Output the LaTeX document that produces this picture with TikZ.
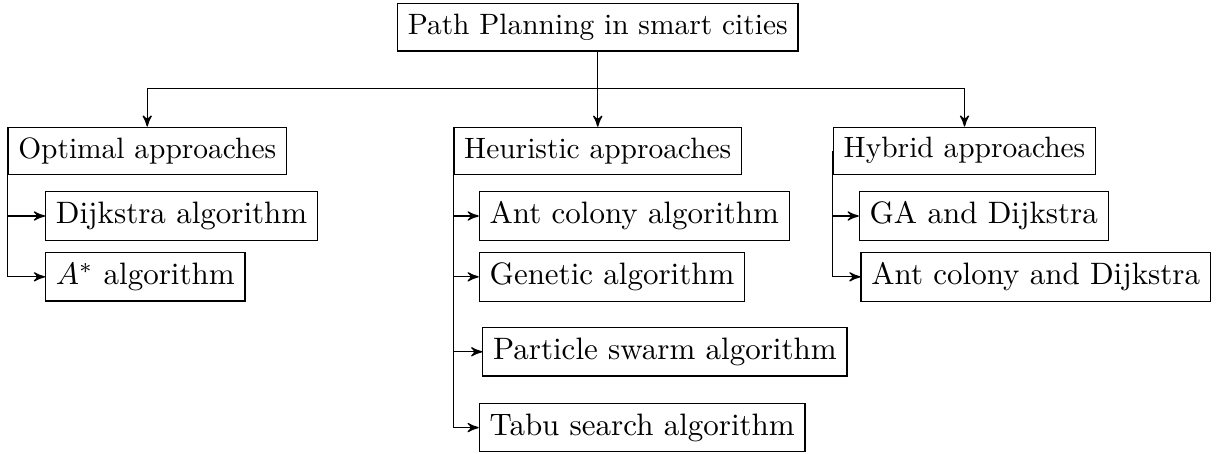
\documentclass[tikz,border=0pt]{standalone}
\usepackage{amsmath}
\usepackage{tikz}
\usetikzlibrary{arrows}
\tikzset{
  treenode/.style = {align=center, rectangle, draw=black, text centered},
  pp_root/.style = {treenode, font=\fontsize{9.5}{11.4}\selectfont},% racine
  pp_cat/.style = {treenode, font=\fontsize{9.5}{11.4}\selectfont},% categorie d'approches
  pp_alg/.style = {treenode, anchor=west}% algorithme
}

\begin{document}
\begin{tikzpicture}[->,>=stealth']
\useasboundingbox (0,0) rectangle (13.94,-5.14);
\node [pp_root] (root) at (6.78,-0.31) {Path Planning in smart cities};
\coordinate (bus) at (6.78,-1.0);

\node [pp_cat] (opt) at (1.67,-1.71) {Optimal approaches};
\node [pp_cat] (heu) at (6.78,-1.71) {Heuristic approaches};
\node [pp_cat] (hyb) at (10.94,-1.71) {Hybrid approaches};

\node [pp_alg] (dij) at (0.51,-2.45) {Dijkstra algorithm};
\node [pp_alg] (astar) at (0.51,-3.14) {$A^*$ algorithm};

\node [pp_alg] (ant) at (5.43,-2.45) {Ant colony algorithm};
\node [pp_alg] (gen) at (5.43,-3.14) {Genetic algorithm};
\node [pp_alg] (pso) at (5.47,-3.99) {Particle swarm algorithm};
\node [pp_alg] (tabu) at (5.43,-4.85) {Tabu search algorithm};

\node [pp_alg] (gad) at (9.74,-2.45) {GA and Dijkstra};
\node [pp_alg] (acd) at (9.76,-3.14) {Ant colony and Dijkstra};

\draw (root.south) -- (bus) -| (opt.north);
\draw (root.south) -- (heu.north);
\draw (bus) -| (hyb.north);

\draw (opt.west) |- (dij.west);
\draw (opt.west) |- (astar.west);

\draw (heu.west) |- (ant.west);
\draw (heu.west) |- (gen.west);
\draw (heu.west) |- (pso.west);
\draw (heu.west) |- (tabu.west);

\draw (hyb.west) |- (gad.west);
\draw (hyb.west) |- (acd.west);
\end{tikzpicture}
\end{document}
